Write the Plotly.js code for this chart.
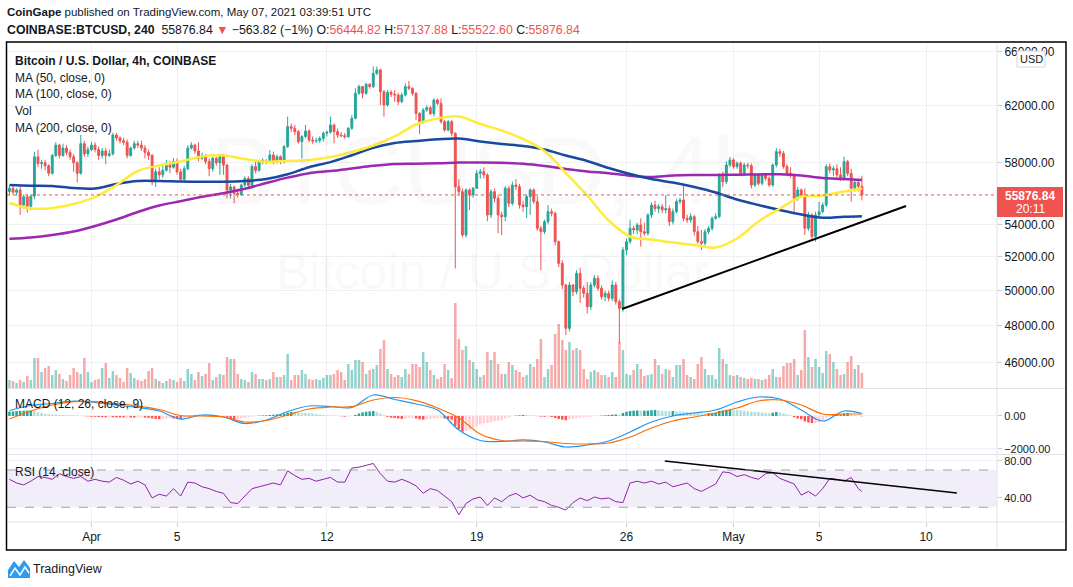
<!DOCTYPE html>
<html><head><meta charset="utf-8">
<script src="https://cdn.plot.ly/plotly-3.0.1.min.js"></script>
<style>html,body{margin:0;padding:0;background:#fff;} #chart{width:1073px;height:587px;}</style>
</head><body><div id="chart"></div>
<script>
// ---- candle data (4h, Coinbase BTCUSD), first candle 2021-03-28 04:00 UTC ----
const openP = [
56100,56300,56050,56200,55230,55760,55150,55800,58400,57950,
58000,57800,57300,58500,59200,58500,59000,58700,58400,58000,
57300,59300,58600,58900,59200,58900,58500,58800,58500,58600,
59900,59700,59500,59400,58500,59000,59300,59200,59000,58700,
58500,56800,57400,57200,57500,57900,57700,58100,57400,56900,
57600,59000,59200,58800,58300,58400,58100,57600,58300,58000,
58450,57850,56200,56400,55980,55900,56520,56960,56500,57740,
57500,58080,58120,58080,58530,58080,58410,58080,59100,60480,
60370,60130,59440,59790,60180,59555,59490,59520,59670,60020,
60100,60600,60130,59900,59850,59785,60370,61070,62870,63358,
62870,63530,63358,64345,64595,62990,62020,62940,62800,62745,
62262,62745,63358,63235,62868,61425,60835,61663,61830,61400,
62382,62141,60835,60250,60835,60017,56416,56090,53340,56199,
55873,56308,57296,57407,57184,54592,56090,55658,54592,54487,
56308,55336,56525,56416,55229,55123,55766,56199,55444,53754,
53547,54172,54804,54698,52929,51616,50334,47867,50334,49947,
51020,50140,49850,49085,50334,50726,50140,49659,49850,49563,
50334,49371,48991,52420,52929,53754,53651,53962,53547,53444,
54592,55229,55000,55123,54911,55000,54172,54804,55444,55551,
54382,54280,54487,53547,52929,52827,53547,53754,54382,54487,
57184,56744,57852,58190,57740,57965,57296,57852,57800,56525,
57184,56634,57184,56964,56525,57852,58755,58640,57740,57296,
57184,55658,56199,55873,53754,54592,53237,54592,54804,55229,
57740,57518,57600,57184,56964,58077,57296,56308,56700,56444.82];
const highP = [
56450,56500,56300,56500,55900,55900,55900,58750,58900,58200,
58200,57900,58600,59400,59300,59300,59200,58900,58600,58100,
59900,59500,59100,59400,59400,59100,59000,59000,58900,60050,
60050,59800,59700,59600,59100,59500,59500,59500,59200,58900,
58600,57600,57700,57800,58200,58100,58300,58300,57600,57800,
59200,59400,59300,59400,58700,58600,58300,58400,58400,58500,
58600,57900,56600,56500,56300,56600,57100,57100,57900,58080,
58200,58300,58250,58870,58760,58550,58500,59200,61190,60700,
60600,60250,59900,60600,60300,59800,59700,59800,60150,60200,
61190,60700,60350,60100,60050,60450,61300,63235,63500,63400,
63650,63600,64845,64850,64700,63100,63100,63100,63100,62900,
62900,63600,63776,63300,62950,61500,61800,62000,61950,62500,
62500,62503,60950,60950,60950,60100,56900,56300,56300,56300,
56400,57518,57600,57700,57300,56250,56300,55900,54800,56450,
56450,56744,56900,56600,55500,55900,56300,56300,55800,53900,
54300,55229,55000,54800,53000,51800,50400,50500,50400,51200,
51350,50300,50500,50500,50922,50900,50300,50000,50000,50600,
50500,49500,52600,53100,54300,53900,54100,54382,54100,54700,
55400,55500,55300,55300,55873,55200,55000,55600,55700,56525,
54600,54700,54600,53900,53650,53700,53900,54500,54700,57300,
57400,58100,58400,58300,58100,58100,58000,58000,57950,57300,
57300,57300,57200,57100,57950,59000,58950,58800,57900,57700,
57300,56400,56300,56300,54800,54700,54800,55444,55400,57900,
57965,57800,57900,57700,58414,58200,57600,56800,56900,57137.88];
const lowP = [
55900,55900,55850,54600,55000,54750,54900,55600,57700,57600,
57500,57100,57200,58400,58300,58400,58500,58200,57400,56700,
57200,58400,58400,58800,58700,58200,58300,57900,58400,58500,
59500,59300,59200,58300,58400,58900,59000,58800,58300,58200,
56500,56400,56900,57000,57400,57300,57600,57200,56800,56800,
57500,58900,58600,58100,58200,57900,57100,57400,57800,57200,
57200,55650,55650,55340,55700,55800,56400,56300,56300,57300,
57400,57900,57900,58000,57900,57950,57900,57950,59000,60100,
59900,59300,58300,59700,59400,59300,59350,59350,59450,59800,
60000,59325,59700,59750,59650,59700,60250,61000,62750,62500,
62750,63200,63250,64200,62020,61190,61900,62600,62260,62020,
62150,62650,63100,62700,60953,59960,60700,61550,61300,61200,
62000,60700,60100,60150,59800,51317,55900,53200,53200,54911,
55700,56300,56950,56950,54200,54400,55400,53444,53340,54200,
55100,55200,56200,55000,54800,54400,54600,55300,53600,51219,
53400,54000,54500,52700,51400,50100,47498,47700,49700,49800,
49300,49600,48707,48900,50200,50000,49500,49400,49400,49400,
49200,47041,48800,52100,52800,53400,53400,52624,53300,53300,
54400,54800,54700,54700,54700,53900,54000,54700,55300,54200,
54100,54100,53300,52800,52420,52700,53400,53600,54300,54400,
56400,56600,57700,57600,57600,57100,57100,57600,56300,56400,
56500,56500,56800,56400,56400,57700,58400,57600,57100,57000,
54698,55500,55700,53340,53600,53000,52929,54400,54700,55100,
57300,57100,57000,56800,56800,57100,55444,56100,56100,55522.60];
const closeP = [
56300,56050,56200,55230,55760,55150,55800,58400,57950,58000,
57800,57300,58500,59200,58500,59000,58700,58400,58000,57300,
59300,58600,58900,59200,58900,58500,58800,58500,58600,59900,
59700,59500,59400,58500,59000,59300,59200,59000,58700,58500,
56800,57400,57200,57500,57900,57700,58100,57400,56900,57600,
59000,59200,58800,58300,58400,58100,57600,58300,58000,58450,
57850,56200,56400,55980,55900,56520,56960,56500,57740,57500,
58080,58120,58080,58530,58080,58410,58080,59100,60480,60370,
60130,59440,59790,60180,59555,59490,59520,59670,60020,60100,
60600,60130,59900,59850,59785,60370,61070,62870,63358,62870,
63530,63358,64345,64595,62990,62020,62940,62800,62745,62262,
62745,63358,63235,62868,61425,60835,61663,61830,61400,62382,
62141,60835,60250,60835,60017,56416,56090,53340,56199,55873,
56308,57296,57407,57184,54592,56090,55658,54592,54487,56308,
55336,56525,56416,55229,55123,55766,56199,55444,53754,53547,
54172,54804,54698,52929,51616,50334,47867,50334,49947,51020,
50140,49850,49085,50334,50726,50140,49659,49850,49563,50334,
49371,48991,52420,52929,53754,53651,53962,53547,53444,54592,
55229,55000,55123,54911,55000,54172,54804,55444,55551,54382,
54280,54487,53547,52929,52827,53547,53754,54382,54487,57184,
56744,57852,58190,57740,57965,57296,57852,57800,56525,57184,
56634,57184,56964,56525,57852,58755,58640,57740,57296,57184,
55658,56199,55873,53754,54592,53237,54592,54804,55229,57740,
57518,57600,57184,56964,58077,57296,56308,56700,56440.66,55876.84];
const volume = [
800,700,500,800,600,1200,800,3000,3000,1600,
2000,2200,1300,1800,1400,900,700,1300,2000,1600,
1400,3000,1600,600,800,900,2000,2500,1000,1700,
1300,1000,600,2000,1500,1000,800,700,900,1700,
2000,900,700,500,700,900,800,600,1000,700,
1900,1400,800,1600,1200,1400,2500,800,1100,1400,
1300,3100,2900,2900,1400,900,800,600,1600,1400,
900,900,800,900,1600,1100,1100,1300,3400,800,
1300,1300,1800,1400,900,800,900,800,1000,1300,
1300,1400,1800,1600,800,2400,1800,2800,2800,2600,
1400,1800,1900,2300,3900,4800,1900,1400,1100,1300,
1100,1900,1400,2400,2400,2100,3600,2600,1800,1300,
900,1100,2400,1800,1000,8500,4900,3800,4200,2800,
2600,1900,1100,1300,3600,2800,3600,2400,1400,1400,
2600,2300,1800,1600,1100,1300,2400,2100,2900,4900,
1100,1900,2300,5400,6400,4800,3800,4600,3800,4000,
3800,1900,900,1600,1800,1600,1300,1300,1100,1600,
1100,4600,3800,1400,1300,1800,2400,1900,1200,1300,
1400,2900,2300,1400,1900,1800,1100,2300,2300,2900,
1300,1100,900,2400,3100,1900,1300,1300,900,4000,
2900,2400,1300,1200,1300,1100,1000,900,1000,900,
900,800,900,1300,1900,1100,1100,2200,2500,2500,
2900,1300,1800,5800,3100,2100,2900,2100,1500,3700,
3400,2600,1900,1300,1400,2600,3200,1900,2300,1500];
const macdHist = [
260,280,300,310,320,330, 330,300,240,180,140,110, 90,80,70,60,55,45, 40,30,10,-10,-30,-45,
-50,-60,-70,-75,-60,-70, -80,-85,-90,-80,-90,-95, -90,-80,-95,-110,-150,-180, -190,-170,-160,-140,-150,-180,
-200,-150,-60,10,50,70, 60,40,20,10,0,-20, -40,-140,-180,-200,-190,-150, -110,-80,-40,0,20,30,
40,60,80,100,120,150, 210,240,230,210,200,190, 180,150,120,90,60,40, 30,20,0,-20,-40,-30,
-10,60,150,220,260,280, 300,250,150,50,-50,-100, -120,-150,-180,-150,-120,-120, -150,-200,-220,-200,-180,-160,
-130,-120,-150,-180,-220,-600, -800,-950,-900,-820,-720,-620, -520,-430,-420,-380,-330,-300, -250,-150,-80,-20,20,40,
60,50,40,20,-10,-40, -50,-40,-60,-120,-180,-220, -260,-200,-170,-130,-100,-80, -70,-40,-20,0,20,40,
60,80,90,70,180,260, 300,320,330,320,320,330, 350,360,340,320,310,290, 300,290,270,260,250,240,
220,190,160,150,170,180, 190,300,330,370,380,370, 360,340,320,280,260,250, 240,220,190,170,200,240,
220,160,100,40,-80,-150, -200,-330,-400,-430,-420,-380, -300,-120,-20,40,60,80, 150,170,100,40,10,-20];
// ---- moving averages, read every 6 candles (last point = last candle) ----
const ma50 = [55356,55004,55037,55292,55743,56524,57450,57818,58087,58424,58492,58255,58073,58120,58188,58390,58730,59175,59797,60634,61058,61200,60670,60214,59623,58798,57317,55840,54244,53246,53061,52877,52724,52571,53123,54181,55004,55763,55840,56100,56296];
const ma100 = [56524,56479,56459,56328,56296,56590,56787,56787,56754,56741,56741,56787,56919,57230,57704,58046,58512,59010,59346,59484,59602,59657,59450,59278,59141,58901,58492,58120,57650,57250,56919,56689,56394,56035,55581,55228,54908,54623,54420,54477,54509];
const ma200 = [53105,53185,53339,53556,53899,54307,54782,55196,55473,55756,55990,56276,56656,57012,57304,57444,57617,57797,57919,57939,57966,58013,58026,57999,57932,57784,57583,57423,57304,57138,57052,57157,57184,57184,57204,57224,57231,57150,56985,56919,56853];
// ---- MACD (12,26,9), read every 6 candles ----
const macdLine = [333,636,758,909,818,667,515,303,-182,61,-61,-455,-242,273,606,576,515,1273,1000,727,364,-848,-1485,-1545,-1454,-1576,-1879,-1757,-1515,-970,-364,0,182,364,848,1151,1030,364,-303,303,152];
const signalLine = [-182,303,667,867,867,745,606,394,30,0,-61,-364,-273,61,424,545,564,970,1121,927,485,-121,-1091,-1485,-1515,-1545,-1667,-1697,-1636,-1273,-727,-303,-61,182,485,909,970,667,121,121,121];
// ---- RSI (14), read every 2 candles ----
const rsiVals = [
60,56,54,58,63,62,60,66,63,61, 63,58,60,58,57,62,59,55,58,54,
40,44,42,50,42,57,56,52,50,47, 45,35,34,42,50,52,54,56,54,69,
64,60,61,58,60,62,57,57,72,73, 75,77,66,58,57,60,57,53,45,50,
48,42,36,22,34,39,41,32,40,36, 42,45,40,43,38,36,32,30,27,35,
40,37,41,39,40,36,35,56,58,56, 58,55,57,52,54,56,50,47,51,55,
68,67,63,65,62,60,66,67,61,58, 55,43,47,42,50,61,60,58,62,50, 47];
// ---- axis ticks ----
const priceTicks = [46000,48000,50000,52000,54000,58000,62000,66000];
const priceTickText = ['46000.00','48000.00','50000.00','52000.00','54000.00','58000.00','62000.00','66000.00'];
const dateTicks = ['2021-04-01','2021-04-05','2021-04-12','2021-04-19','2021-04-26','2021-05-01','2021-05-05','2021-05-10'];
const dateTickText = ['Apr','5','12','19','26','May','5','10'];
// ---- drawn trend lines ----
const supportX = ['2021-04-25 19:00','2021-05-09 01:30'];
const supportY = [48955,55169];
const rsiTrendX = ['2021-04-27 19:00','2021-05-11 10:30'];
const rsiTrendY = [79.7,45.3];
const lastPrice = 55876.84;

// ---- build ----
const T0 = Date.UTC(2021,2,28,4,0,0), H4 = 4*3600*1000;
const pad = n => String(n).padStart(2,'0');
function fmt(ms){const d=new Date(ms);return d.getUTCFullYear()+'-'+pad(d.getUTCMonth()+1)+'-'+pad(d.getUTCDate())+' '+pad(d.getUTCHours())+':'+pad(d.getUTCMinutes());}
const N = closeP.length;
const times = closeP.map((_,i)=>fmt(T0+i*H4));
const maX = ma50.map((_,i)=>times[Math.min(i*6,N-1)]);
const rsiX = rsiVals.map((_,i)=>times[Math.min(i*2,N-1)]);
const xRange = ['2021-03-28 01:16','2021-05-13 07:30'];

const UP='#26a69a', DN='#ef5350';
const volColors = closeP.map((c,i)=> c>=openP[i] ? 'rgba(38,166,154,0.5)' : 'rgba(239,83,80,0.5)');
const histColors = macdHist.map((h,i)=>{const p = i>0?macdHist[i-1]:h; return h>=0 ? (h>=p?'#26a69a':'#b2dfdb') : (h<p?'#ff5252':'#ffcdd2');});

// pixel helpers for decorations (plot area: x 7..997, y 42..522)
const PX = px => (px-7)/990, PY = py => (522-py)/480;
const FONT = 'Liberation Sans, Arial, sans-serif';

const traces = [
 {type:'bar', x:times, y:volume, yaxis:'y4', marker:{color:volColors, line:{width:0}}, hoverinfo:'skip'},
 {type:'candlestick', x:times, open:openP, high:highP, low:lowP, close:closeP, whiskerwidth:0,
  increasing:{line:{color:UP,width:1}, fillcolor:UP}, decreasing:{line:{color:DN,width:1}, fillcolor:DN}, hoverinfo:'skip'},
 {type:'scatter', mode:'lines', x:maX, y:ma200, line:{color:'#9c27b0', width:2.5, shape:'spline'}, hoverinfo:'skip'},
 {type:'scatter', mode:'lines', x:maX, y:ma100, line:{color:'#1848a0', width:2.5, shape:'spline'}, hoverinfo:'skip'},
 {type:'scatter', mode:'lines', x:maX, y:ma50, line:{color:'#ffeb3b', width:2.5, shape:'spline'}, hoverinfo:'skip'},
 {type:'scatter', mode:'lines', x:xRange, y:[lastPrice,lastPrice], line:{color:DN, width:1, dash:'dot'}, hoverinfo:'skip'},
 {type:'scatter', mode:'lines', x:supportX, y:supportY, line:{color:'#000', width:2}, hoverinfo:'skip'},
 {type:'bar', x:times, y:macdHist, yaxis:'y2', marker:{color:histColors, line:{width:0}}, hoverinfo:'skip'},
 {type:'scatter', mode:'lines', x:maX, y:macdLine, yaxis:'y2', line:{color:'#2196f3', width:1.2, shape:'spline'}, hoverinfo:'skip'},
 {type:'scatter', mode:'lines', x:maX, y:signalLine, yaxis:'y2', line:{color:'#ff6d00', width:1.2, shape:'spline'}, hoverinfo:'skip'},
 {type:'scatter', mode:'lines', x:rsiX, y:rsiVals, yaxis:'y3', line:{color:'#8e24aa', width:1}, hoverinfo:'skip'},
 {type:'scatter', mode:'lines', x:rsiTrendX, y:rsiTrendY, yaxis:'y3', line:{color:'#000', width:1.5}, hoverinfo:'skip'}
];

const grid = '#eef0f3', tickc = '#c8cbd2';
const yCommon = {side:'right', anchor:'x', showgrid:true, gridcolor:grid, zeroline:false, showline:false,
  ticks:'outside', ticklen:4, tickcolor:tickc, tickfont:{family:FONT, size:12, color:'#131722'}, fixedrange:true};
const smallTick = {family:FONT, size:11, color:'#131722'};

const layout = {
 width:1073, height:587, margin:{l:7, r:76, t:42, b:65},
 paper_bgcolor:'#fff', plot_bgcolor:'#fff', showlegend:false, hovermode:false,
 bargap:0.3, boxgap:0.25,
 xaxis:{type:'date', range:xRange, anchor:'y3', tickmode:'array', tickvals:dateTicks, ticktext:dateTickText,
   showgrid:true, gridcolor:grid, zeroline:false, showline:false, ticks:'outside', ticklen:4, tickcolor:tickc,
   tickfont:{family:FONT, size:12, color:'#131722'}, rangeslider:{visible:false}, fixedrange:true},
 yaxis:Object.assign({}, yCommon, {domain:[0.2792,1], type:'log', range:[4.64999,4.82428], tickmode:'array', tickvals:priceTicks, ticktext:priceTickText}),
 yaxis2:Object.assign({}, yCommon, {domain:[0.1417,0.2771], range:[-2303,1636], tickmode:'array', tickvals:[0,-2000], ticktext:['0.00','\u22122000.00'], tickfont:smallTick}),
 yaxis3:Object.assign({}, yCommon, {domain:[0,0.1396], range:[14.2,86.1], tickmode:'array', tickvals:[80,40], ticktext:['80.00','40.00'], tickfont:smallTick}),
 yaxis4:{overlaying:'y', anchor:'x', range:[0,34600], visible:false, showgrid:false, zeroline:false, fixedrange:true},
 shapes:[
  {type:'rect', xref:'paper', yref:'y3', x0:0, x1:1, y0:30, y1:70, fillcolor:'rgba(126,87,194,0.10)', line:{width:0}, layer:'below'},
  {type:'line', xref:'paper', yref:'y3', x0:0, x1:1, y0:70, y1:70, line:{color:'#a39fab', width:1, dash:'dash'}},
  {type:'line', xref:'paper', yref:'y3', x0:0, x1:1, y0:30, y1:30, line:{color:'#a39fab', width:1, dash:'dash'}},
  {type:'line', xref:'paper', yref:'paper', x0:0, x1:PX(1066), y0:PY(388.5), y1:PY(388.5), line:{color:'#dfe2e8', width:1}},
  {type:'line', xref:'paper', yref:'paper', x0:0, x1:PX(1066), y0:PY(454.5), y1:PY(454.5), line:{color:'#dfe2e8', width:1}},
  {type:'line', xref:'paper', yref:'paper', x0:0, x1:PX(1066), y0:0, y1:0, line:{color:'#dfe2e8', width:1}},
  {type:'line', xref:'paper', yref:'paper', x0:1, x1:1, y0:PY(550), y1:1, line:{color:'#dfe2e8', width:1}},
  {type:'rect', xref:'paper', yref:'paper', x0:PX(997), x1:PX(1063), y0:PY(217), y1:PY(187), fillcolor:DN, line:{width:0}},
  {type:'rect', xref:'paper', yref:'paper', x0:PX(1017), x1:PX(1045), y0:PY(67), y1:PY(51), fillcolor:'#fff', line:{color:'#d1d4dc', width:1}},
  {type:'rect', xref:'paper', yref:'paper', x0:PX(6.5), x1:PX(1066), y0:PY(550), y1:PY(42), line:{color:'#000', width:1.5}},
  {type:'path', xref:'paper', yref:'paper', fillcolor:'#2e9bf0', line:{width:0},
   path:'M'+PX(8)+','+PY(578)+' L'+PX(8)+','+PY(570)+' L'+PX(14)+','+PY(561)+' L'+PX(19)+','+PY(567)+' L'+PX(24)+','+PY(560)+' L'+PX(30)+','+PY(568)+' L'+PX(30)+','+PY(578)+' Z'},
  {type:'path', xref:'paper', yref:'paper', line:{color:'#fff', width:1.5},
   path:'M'+PX(10)+','+PY(576)+' L'+PX(15)+','+PY(568)+' L'+PX(20)+','+PY(575)+' L'+PX(25)+','+PY(567)+' L'+PX(29)+','+PY(573)}
 ],
 annotations:[]
};
function ann(px, py, text, opt){
 layout.annotations.push(Object.assign({xref:'paper', yref:'paper', x:PX(px), y:PY(py), text:text, showarrow:false,
   xanchor:'left', yanchor:'middle', font:{family:FONT, size:12, color:'#131722'}}, opt||{}));
}
// watermarks
ann(488, 170, 'BTCUSD, 4h', {xanchor:'center', font:{family:FONT, size:96, color:'rgba(120,123,134,0.045)'}});
ann(492, 272, 'Bitcoin / U.S. Dollar', {xanchor:'center', font:{family:FONT, size:50, color:'rgba(120,123,134,0.045)'}});
// header
ann(5, 11.5, '<b>CoinGape</b> published on TradingView.com, May 07, 2021 03:39:51 UTC', {font:{family:FONT, size:11.5, color:'#131722'}});
const R = s => '<span style="color:#ef5350">'+s+'</span>';
ann(5, 30, '<b>COINBASE:BTCUSD, 240</b>  55876.84 '+R('\u25BC')+' \u2212563.82 (\u22121%) O:'+R('56444.82')+' H:'+R('57137.88')+' L:'+R('55522.60')+' C:'+R('55876.84'), {font:{family:FONT, size:12.3, color:'#131722'}});
// legends
ann(13, 61, '<b>Bitcoin / U.S. Dollar, 4h, COINBASE</b>');
ann(13, 77.7, 'MA (50, close, 0)');
ann(13, 94.3, 'MA (100, close, 0)');
ann(13, 111, 'Vol');
ann(13, 127.7, 'MA (200, close, 0)');
ann(13, 404, 'MACD (12, 26, close, 9)');
ann(13, 472, 'RSI (14, close)');
// price label
ann(1030, 195.5, '<b>55876.84</b>', {xanchor:'center', font:{family:FONT, size:12, color:'#fff'}});
ann(1030, 209, '20:11', {xanchor:'center', font:{family:FONT, size:12, color:'#fff'}});
ann(1031, 59, 'USD', {xanchor:'center', font:{family:FONT, size:11, color:'#131722'}});
// footer
ann(31, 569, 'TradingView', {font:{family:FONT, size:12.5, color:'#131722'}});

Plotly.newPlot('chart', traces, layout, {staticPlot:true, displayModeBar:false});
</script>
</body></html>
